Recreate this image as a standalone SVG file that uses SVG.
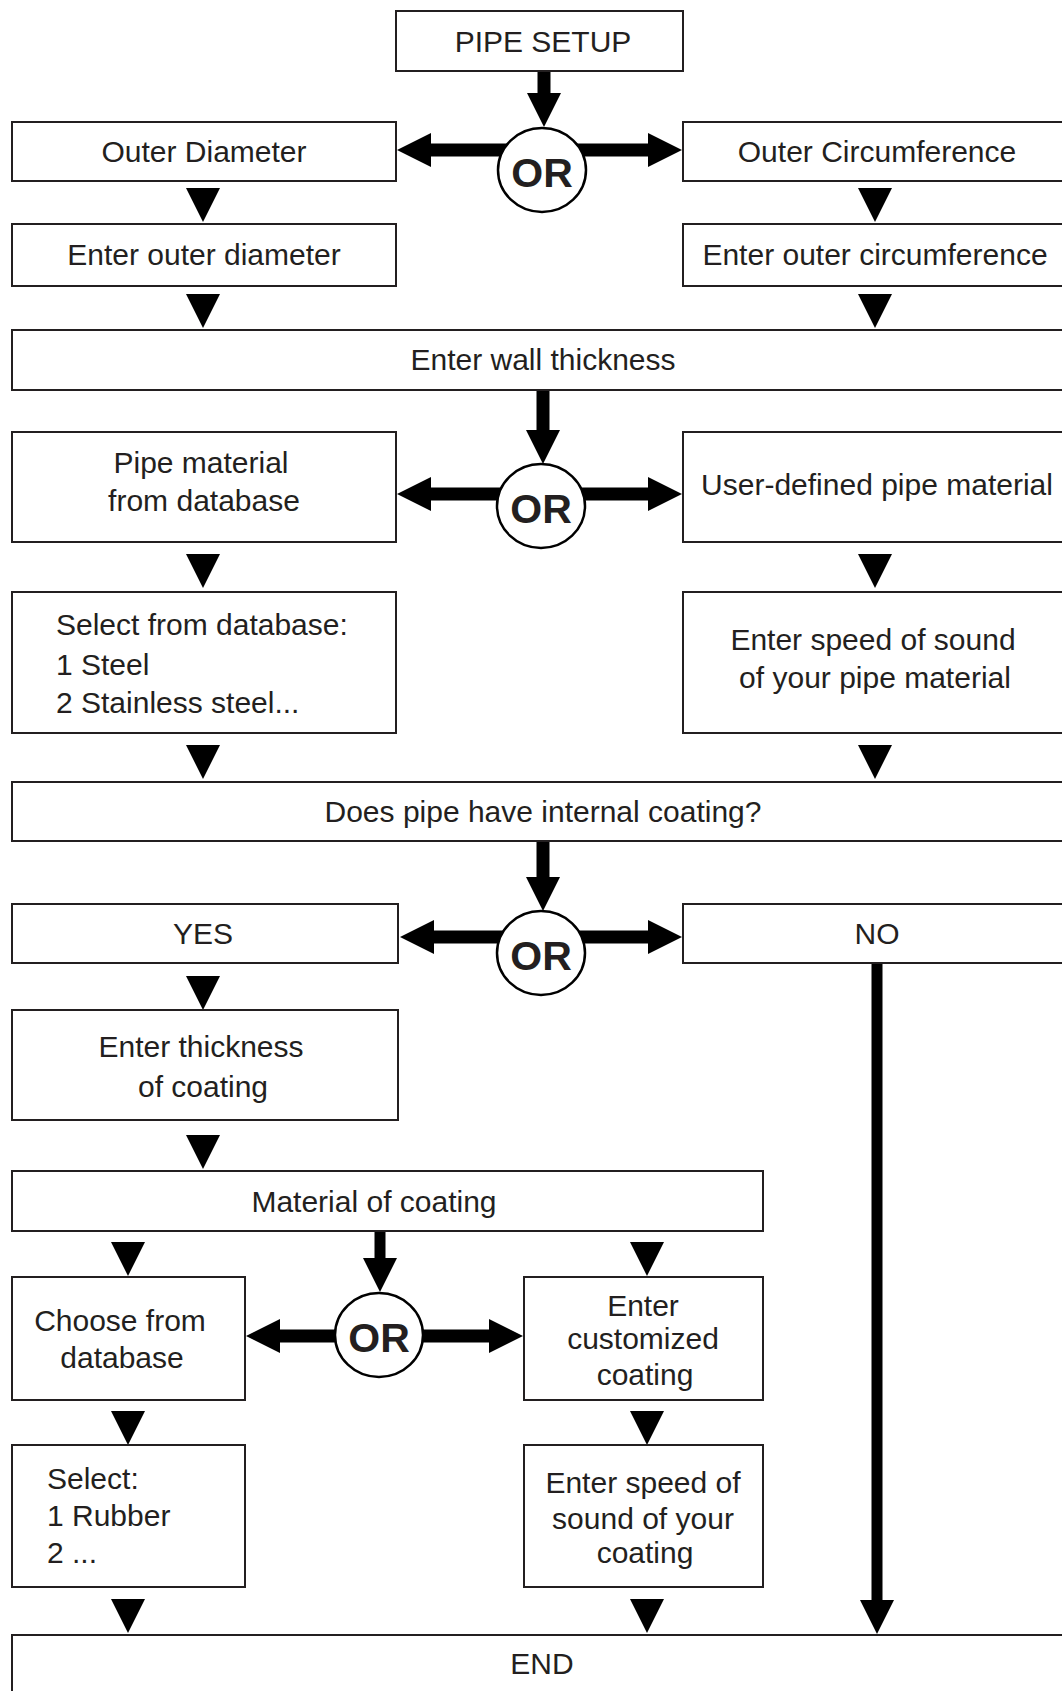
<svg xmlns="http://www.w3.org/2000/svg" width="1062" height="1691" viewBox="0 0 1062 1691">
<defs>
<style>
.box{fill:#fff;stroke:#231f20;stroke-width:2}
.t{font-family:"Liberation Sans",Arial,sans-serif;font-size:30px;fill:#231f20}
.c{text-anchor:middle}
.or{font-family:"Liberation Sans",Arial,sans-serif;font-size:41px;font-weight:bold;fill:#231f20;text-anchor:middle}
.circ{fill:#fff;stroke:#000;stroke-width:2.5}
.stem{stroke:#000;stroke-width:13;fill:none}
.head{fill:#000}
</style>
<path id="tri" d="M-17,-34 L17,-34 L0,0 Z"/>
</defs>
<rect width="1062" height="1691" fill="#fff"/>

<g id="connectors">
<!-- row 1 -->
<line class="stem" x1="544" y1="71" x2="544" y2="94"/>
<use href="#tri" class="head" x="544" y="127"/>
<line class="stem" x1="428" y1="150" x2="542" y2="150"/>
<line class="stem" x1="542" y1="150" x2="650" y2="150"/>
<use href="#tri" class="head" transform="translate(397,150) rotate(90)"/>
<use href="#tri" class="head" transform="translate(682,150) rotate(-90)"/>
<use href="#tri" class="head" x="203" y="222"/>
<use href="#tri" class="head" x="875" y="222"/>
<use href="#tri" class="head" x="203" y="328"/>
<use href="#tri" class="head" x="875" y="328"/>
<!-- row 2 -->
<line class="stem" x1="543" y1="390" x2="543" y2="431"/>
<use href="#tri" class="head" x="543" y="464"/>
<line class="stem" x1="428" y1="494" x2="650" y2="494"/>
<use href="#tri" class="head" transform="translate(397,494) rotate(90)"/>
<use href="#tri" class="head" transform="translate(682,494) rotate(-90)"/>
<use href="#tri" class="head" x="203" y="588"/>
<use href="#tri" class="head" x="875" y="588"/>
<use href="#tri" class="head" x="203" y="779"/>
<use href="#tri" class="head" x="875" y="779"/>
<!-- row 3 -->
<line class="stem" x1="543" y1="841" x2="543" y2="877"/>
<use href="#tri" class="head" x="543" y="911"/>
<line class="stem" x1="431" y1="937" x2="650" y2="937"/>
<use href="#tri" class="head" transform="translate(400,937) rotate(90)"/>
<use href="#tri" class="head" transform="translate(682,937) rotate(-90)"/>
<use href="#tri" class="head" x="203" y="1010"/>
<use href="#tri" class="head" x="203" y="1169"/>
<line class="stem" x1="877" y1="963" x2="877" y2="1602" style="stroke-width:11"/>
<use href="#tri" class="head" x="877" y="1634"/>
<!-- row 4 -->
<line class="stem" x1="380" y1="1231" x2="380" y2="1259" style="stroke-width:11"/>
<use href="#tri" class="head" x="380" y="1292"/>
<line class="stem" x1="278" y1="1336" x2="491" y2="1336"/>
<use href="#tri" class="head" transform="translate(246,1336) rotate(90)"/>
<use href="#tri" class="head" transform="translate(523,1336) rotate(-90)"/>
<use href="#tri" class="head" x="128" y="1276"/>
<use href="#tri" class="head" x="647" y="1276"/>
<use href="#tri" class="head" x="128" y="1445"/>
<use href="#tri" class="head" x="647" y="1445"/>
<use href="#tri" class="head" x="128" y="1633"/>
<use href="#tri" class="head" x="647" y="1633"/>
</g>

<g id="pipe-setup"><rect class="box" x="396" y="11" width="287" height="60"/><text class="t c" x="543" y="52">PIPE SETUP</text></g>
<g id="or1"><ellipse class="circ" cx="542" cy="170" rx="44" ry="42"/><text class="or" x="542" y="187">OR</text></g>
<g id="outer-diameter"><rect class="box" x="12" y="122" width="384" height="59"/><text class="t c" x="204" y="162">Outer Diameter</text></g>
<g id="outer-circumference"><rect class="box" x="683" y="122" width="390" height="59"/><text class="t c" x="877" y="162">Outer Circumference</text></g>
<g id="enter-outer-diameter"><rect class="box" x="12" y="224" width="384" height="62"/><text class="t c" x="204" y="265">Enter outer diameter</text></g>
<g id="enter-outer-circumference"><rect class="box" x="683" y="224" width="390" height="62"/><text class="t c" x="875" y="265">Enter outer circumference</text></g>
<g id="wall-thickness"><rect class="box" x="12" y="330" width="1061" height="60"/><text class="t c" x="543" y="370">Enter wall thickness</text></g>
<g id="or2"><ellipse class="circ" cx="541" cy="506" rx="44" ry="42"/><text class="or" x="541" y="523">OR</text></g>
<g id="pipe-material-db"><rect class="box" x="12" y="432" width="384" height="110"/><text class="t c" x="201" y="473">Pipe material</text><text class="t c" x="204" y="511">from database</text></g>
<g id="user-defined"><rect class="box" x="683" y="432" width="390" height="110"/><text class="t c" x="877" y="495">User-defined pipe material</text></g>
<g id="select-db"><rect class="box" x="12" y="592" width="384" height="141"/><text class="t" x="56" y="635">Select from database:</text><text class="t" x="56" y="675">1 Steel</text><text class="t" x="56" y="713">2 Stainless steel...</text></g>
<g id="enter-speed-pipe"><rect class="box" x="683" y="592" width="390" height="141"/><text class="t c" x="873" y="650">Enter speed of sound</text><text class="t c" x="875" y="688">of your pipe material</text></g>
<g id="internal-coating"><rect class="box" x="12" y="782" width="1061" height="59"/><text class="t c" x="543" y="822">Does pipe have internal coating?</text></g>
<g id="or3"><ellipse class="circ" cx="541" cy="953" rx="44" ry="42"/><text class="or" x="541" y="970">OR</text></g>
<g id="yes"><rect class="box" x="12" y="904" width="386" height="59"/><text class="t c" x="203" y="944">YES</text></g>
<g id="no"><rect class="box" x="683" y="904" width="390" height="59"/><text class="t c" x="877" y="944">NO</text></g>
<g id="thickness-coating"><rect class="box" x="12" y="1010" width="386" height="110"/><text class="t c" x="201" y="1057">Enter thickness</text><text class="t c" x="203" y="1097">of coating</text></g>
<g id="material-coating"><rect class="box" x="12" y="1171" width="751" height="60"/><text class="t c" x="374" y="1212">Material of coating</text></g>
<g id="or4"><ellipse class="circ" cx="379" cy="1335" rx="44" ry="42"/><text class="or" x="379" y="1352">OR</text></g>
<g id="choose-db"><rect class="box" x="12" y="1277" width="233" height="123"/><text class="t c" x="120" y="1331">Choose from</text><text class="t c" x="122" y="1368">database</text></g>
<g id="customized-coating"><rect class="box" x="524" y="1277" width="239" height="123"/><text class="t c" x="643" y="1316">Enter</text><text class="t c" x="643" y="1349">customized</text><text class="t c" x="645" y="1385">coating</text></g>
<g id="select-rubber"><rect class="box" x="12" y="1445" width="233" height="142"/><text class="t" x="47" y="1489">Select:</text><text class="t" x="47" y="1526">1 Rubber</text><text class="t" x="47" y="1563">2 ...</text></g>
<g id="speed-coating"><rect class="box" x="524" y="1445" width="239" height="142"/><text class="t c" x="643" y="1493">Enter speed of</text><text class="t c" x="643" y="1529">sound of your</text><text class="t c" x="645" y="1563">coating</text></g>
<g id="end"><rect class="box" x="12" y="1635" width="1061" height="70"/><text class="t c" x="542" y="1674">END</text></g>
</svg>
